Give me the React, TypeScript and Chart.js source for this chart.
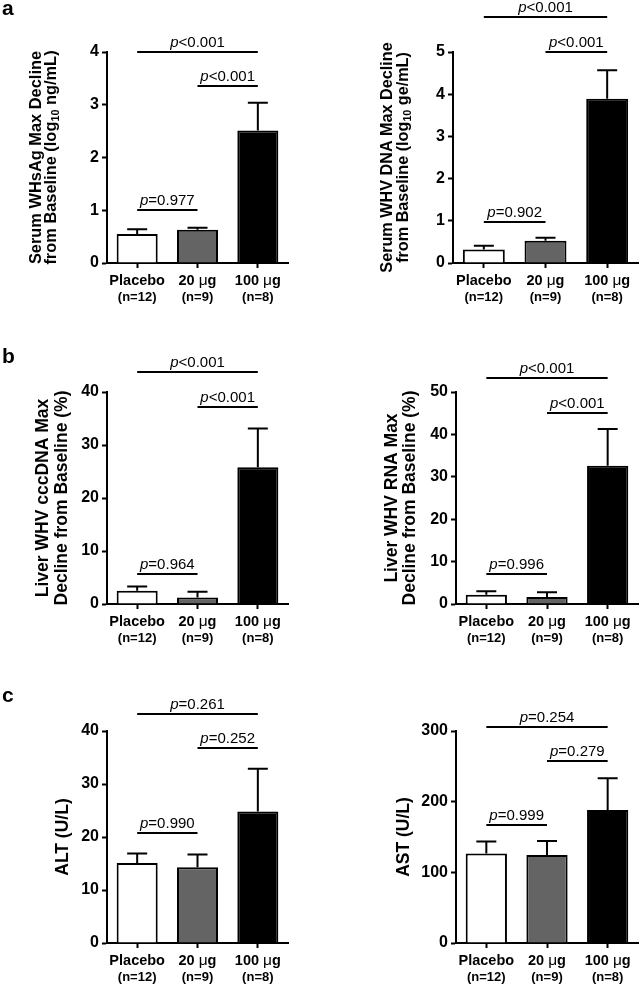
import React, { useEffect, useRef } from "react";
import { Chart, registerables } from "chart.js";

Chart.register(...registerables);

const FONT = '"Liberation Sans", Arial, sans-serif';

// ---------- data ----------
const categories = ["Placebo", "20 μg", "100 μg"];
const groupSizes = ["(n=12)", "(n=9)", "(n=8)"];
const barColors = ["#ffffff", "#646464", "#000000"];

const whsagMean = [0.55, 0.63, 2.51];
const whsagSem = [0.09, 0.04, 0.53];
const whvDnaMean = [0.32, 0.53, 3.89];
const whvDnaSem = [0.09, 0.07, 0.68];
const cccdnaMean = [2.5, 1.25, 25.8];
const cccdnaSem = [0.8, 1.05, 7.3];
const rnaMean = [2.2, 1.65, 32.6];
const rnaSem = [0.8, 1.15, 8.7];
const altMean = [15.1, 14.3, 24.8];
const altSem = [1.8, 2.4, 8.1];
const astMean = [126.5, 124.5, 188.2];
const astSem = [17, 20, 45];

// comparisons: [from index, to index, bracket level, p text]
const whsagBrackets: [number, number, number, string][] = [
  [0, 2, 4.0, "<0.001"],
  [1, 2, 3.36, "<0.001"],
  [0, 1, 1.0, "=0.977"],
];
const whvDnaBrackets: [number, number, number, string][] = [
  [0, 2, 5.84, "<0.001"],
  [1, 2, 5.0, "<0.001"],
  [0, 1, 0.98, "=0.902"],
];
const cccdnaBrackets: [number, number, number, string][] = [
  [0, 2, 43.8, "<0.001"],
  [1, 2, 37.2, "<0.001"],
  [0, 1, 5.6, "=0.964"],
];
const rnaBrackets: [number, number, number, string][] = [
  [0, 2, 53.2, "<0.001"],
  [1, 2, 45.1, "<0.001"],
  [0, 1, 7.1, "=0.996"],
];
const altBrackets: [number, number, number, string][] = [
  [0, 2, 43.3, "=0.261"],
  [1, 2, 36.7, "=0.252"],
  [0, 1, 20.75, "=0.990"],
];
const astBrackets: [number, number, number, string][] = [
  [0, 2, 305.7, "=0.254"],
  [1, 2, 257.5, "=0.279"],
  [0, 1, 167, "=0.999"],
];

const whsagTitle = ["Serum WHsAg Max Decline", "from Baseline (log_{10} ng/mL)"];
const whvDnaTitle = ["Serum WHV DNA Max Decline", "from Baseline (log_{10} ge/mL)"];
const cccdnaTitle = ["Liver WHV cccDNA Max", "Decline from Baseline (%)"];
const rnaTitle = ["Liver WHV RNA Max", "Decline from Baseline (%)"];
const altTitle = ["ALT (U/L)"];
const astTitle = ["AST (U/L)"];

const yMaxes = [4, 5, 40, 50, 40, 300];
const ySteps = [1, 1, 10, 10, 10, 100];

// ---------- layout (page pixel coordinates) ----------
type Rect = { x: number; y: number; w: number; h: number };
type Area = { l: number; t: number; r: number; b: number };
type PanelCfg = {
  canvas: Rect;
  area: Area;
  means: number[];
  sems: number[];
  brackets: [number, number, number, string][];
  title: string[];
  titleFont: number;
  titleX: number[];
  yMax: number;
  yStep: number;
  letter?: string;
  letterY?: number;
};

const panels: PanelCfg[] = [
  {
    canvas: { x: 0, y: 0, w: 320, h: 320 },
    area: { l: 107, t: 52, r: 288, b: 263 },
    means: whsagMean, sems: whsagSem, brackets: whsagBrackets,
    title: whsagTitle, titleFont: 16.4, titleX: [41, 55.5],
    yMax: yMaxes[0], yStep: ySteps[0], letter: "a", letterY: 15,
  },
  {
    canvas: { x: 320, y: 0, w: 320, h: 320 },
    area: { l: 453, t: 52, r: 638, b: 263 },
    means: whvDnaMean, sems: whvDnaSem, brackets: whvDnaBrackets,
    title: whvDnaTitle, titleFont: 16.2, titleX: [392, 407.5],
    yMax: yMaxes[1], yStep: ySteps[1],
  },
  {
    canvas: { x: 0, y: 320, w: 320, h: 330 },
    area: { l: 107, t: 392, r: 288, b: 604 },
    means: cccdnaMean, sems: cccdnaSem, brackets: cccdnaBrackets,
    title: cccdnaTitle, titleFont: 17.5, titleX: [48, 66.5],
    yMax: yMaxes[2], yStep: ySteps[2], letter: "b", letterY: 363,
  },
  {
    canvas: { x: 320, y: 320, w: 320, h: 330 },
    area: { l: 456, t: 392, r: 638, b: 604 },
    means: rnaMean, sems: rnaSem, brackets: rnaBrackets,
    title: rnaTitle, titleFont: 17.5, titleX: [396.5, 414.5],
    yMax: yMaxes[3], yStep: ySteps[3],
  },
  {
    canvas: { x: 0, y: 650, w: 320, h: 335 },
    area: { l: 107, t: 731, r: 288, b: 943 },
    means: altMean, sems: altSem, brackets: altBrackets,
    title: altTitle, titleFont: 17.5, titleX: [67.5],
    yMax: yMaxes[4], yStep: ySteps[4], letter: "c", letterY: 702,
  },
  {
    canvas: { x: 320, y: 650, w: 320, h: 335 },
    area: { l: 456, t: 731, r: 638, b: 943 },
    means: astMean, sems: astSem, brackets: astBrackets,
    title: astTitle, titleFont: 17.5, titleX: [408.5],
    yMax: yMaxes[5], yStep: ySteps[5],
  },
];

type Seg = { text: string; font: string; dy?: number };

function drawSegs(ctx: CanvasRenderingContext2D, segs: Seg[], x: number, y: number) {
  let total = 0;
  const widths = segs.map((s) => {
    ctx.font = s.font;
    const w = ctx.measureText(s.text).width;
    total += w;
    return w;
  });
  let cx = x - total / 2;
  ctx.textAlign = "left";
  ctx.textBaseline = "alphabetic";
  segs.forEach((s, i) => {
    ctx.font = s.font;
    ctx.fillText(s.text, cx, y + (s.dy || 0));
    cx += widths[i];
  });
}

function titleSegs(line: string, size: number): Seg[] {
  const parts = line.split(/_\{([^}]*)\}/);
  const segs: Seg[] = [];
  parts.forEach((p, i) => {
    if (!p) return;
    if (i % 2 === 1) segs.push({ text: p, font: `bold ${size * 0.66}px ${FONT}`, dy: 3.5 });
    else segs.push({ text: p, font: `bold ${size}px ${FONT}` });
  });
  return segs;
}

function categorySegs(label: string): Seg[] {
  const parts = label.split("μ");
  const segs: Seg[] = [];
  parts.forEach((p, i) => {
    if (i > 0) segs.push({ text: "μ", font: `15.5px ${FONT}` });
    if (p) segs.push({ text: p, font: `bold 14.5px ${FONT}` });
  });
  return segs;
}

function Panel({ cfg }: { cfg: PanelCfg }) {
  const ref = useRef<HTMLCanvasElement>(null);
  useEffect(() => {
    const { canvas, area } = cfg;
    const decor = {
      id: "decor",
      afterDatasetsDraw(chart: any) {
        const ctx: CanvasRenderingContext2D = chart.ctx;
        const ys = chart.scales.y;
        const meta = chart.getDatasetMeta(0);
        const ds: any = chart.data.datasets[0];
        ctx.save();
        ctx.strokeStyle = "#000";
        ctx.lineWidth = 2;
        meta.data.forEach((bar: any, i: number) => {
          const v = ds.data[i];
          const top = ys.getPixelForValue(v + ds.sem[i]);
          const base = ys.getPixelForValue(v);
          ctx.beginPath();
          ctx.moveTo(bar.x, base);
          ctx.lineTo(bar.x, top);
          ctx.moveTo(bar.x - 10, top);
          ctx.lineTo(bar.x + 10, top);
          ctx.stroke();
        });
        ctx.restore();
      },
      afterDraw(chart: any) {
        const ctx: CanvasRenderingContext2D = chart.ctx;
        const xs = chart.scales.x;
        const ys = chart.scales.y;
        const ca = chart.chartArea;
        ctx.save();
        ctx.fillStyle = "#000";
        ctx.strokeStyle = "#000";
        ctx.lineWidth = 2;
        // significance brackets
        cfg.brackets.forEach(([a, b, lvl, txt]) => {
          const x1 = xs.getPixelForValue(a);
          const x2 = xs.getPixelForValue(b);
          const y = Math.round(ys.getPixelForValue(lvl));
          ctx.beginPath();
          ctx.moveTo(x1, y);
          ctx.lineTo(x2, y);
          ctx.stroke();
          drawSegs(
            ctx,
            [
              { text: "p", font: `italic 15px ${FONT}` },
              { text: txt, font: `15px ${FONT}` },
            ],
            (x1 + x2) / 2,
            y - 5
          );
        });
        // category labels
        categories.forEach((c, i) => {
          const x = xs.getPixelForValue(i);
          drawSegs(ctx, categorySegs(c), x, ca.bottom + 22);
          drawSegs(ctx, [{ text: groupSizes[i], font: `bold 13px ${FONT}` }], x, ca.bottom + 38);
        });
        // axis title
        const cy = (ca.top + ca.bottom) / 2;
        cfg.title.forEach((line, i) => {
          ctx.save();
          ctx.translate(cfg.titleX[i] - canvas.x, cy);
          ctx.rotate(-Math.PI / 2);
          drawSegs(ctx, titleSegs(line, cfg.titleFont), 0, 0);
          ctx.restore();
        });
        // panel letter
        if (cfg.letter) {
          ctx.font = `bold 21px ${FONT}`;
          ctx.textAlign = "left";
          ctx.textBaseline = "alphabetic";
          ctx.fillText(cfg.letter, 2, (cfg.letterY as number) - canvas.y);
        }
        ctx.restore();
      },
    };

    const chart = new Chart(ref.current as HTMLCanvasElement, {
      type: "bar",
      data: {
        labels: categories,
        datasets: [
          {
            data: cfg.means,
            sem: cfg.sems,
            backgroundColor: barColors,
            borderColor: "#000",
            borderWidth: 2,
            barPercentage: 0.68,
            categoryPercentage: 1,
          } as any,
        ],
      },
      options: {
        animation: false,
        responsive: false,
        events: [],
        layout: {
          padding: {
            left: 0,
            top: area.t - canvas.y,
            right: canvas.x + canvas.w - area.r,
            bottom: 0,
          },
        },
        plugins: {
          legend: { display: false },
          tooltip: { enabled: false },
        },
        scales: {
          x: {
            grid: {
              display: true,
              drawOnChartArea: false,
              offset: false,
              drawTicks: true,
              tickLength: 5,
              tickWidth: 2,
              tickColor: "#000",
            },
            border: { display: true, color: "#000", width: 2 },
            ticks: { display: false },
            afterFit: (s: any) => {
              s.height = canvas.y + canvas.h - area.b;
            },
          },
          y: {
            min: 0,
            max: cfg.yMax,
            ticks: {
              stepSize: cfg.yStep,
              color: "#000",
              padding: 3,
              font: { family: FONT, size: 16, weight: "bold" },
            },
            grid: {
              drawOnChartArea: false,
              drawTicks: true,
              tickLength: 5,
              tickWidth: 2,
              tickColor: "#000",
            },
            border: { display: true, color: "#000", width: 2 },
            afterFit: (s: any) => {
              s.width = area.l - canvas.x;
            },
          },
        },
      } as any,
      plugins: [decor],
    });
    return () => chart.destroy();
  }, []);
  const { canvas } = cfg;
  return (
    <canvas
      ref={ref}
      width={canvas.w}
      height={canvas.h}
      style={{
        position: "absolute",
        left: canvas.x,
        top: canvas.y,
        width: canvas.w,
        height: canvas.h,
      }}
    />
  );
}

export default function App() {
  return (
    <div
      style={{
        position: "absolute",
        left: 0,
        top: 0,
        width: 640,
        height: 985,
        background: "#fff",
        overflow: "hidden",
      }}
    >
      {panels.map((p, i) => (
        <Panel key={i} cfg={p} />
      ))}
    </div>
  );
}
